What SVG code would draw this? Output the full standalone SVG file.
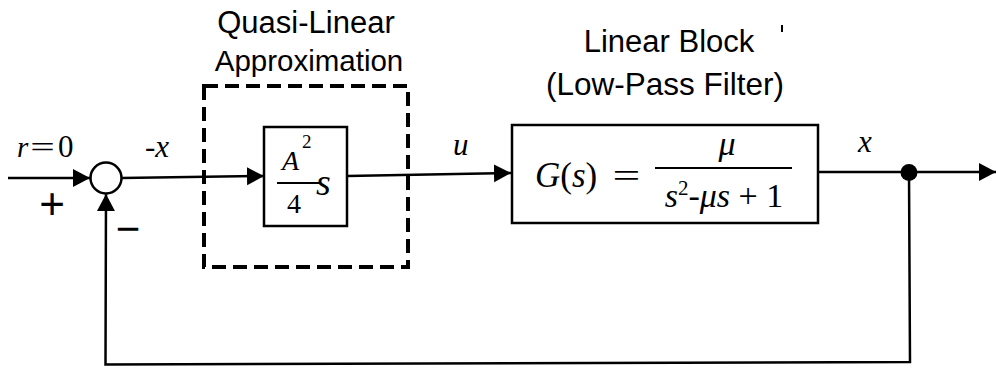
<svg xmlns="http://www.w3.org/2000/svg" width="998" height="369" viewBox="0 0 998 369">
<style>
.ln{fill:none;stroke:#000;stroke-width:2.5}
.box{fill:#fff;stroke:#000;stroke-width:2.5}
.dash{fill:none;stroke:#000;stroke-width:4;stroke-dasharray:14 7}
.sans{font-family:"Liberation Sans",Arial,sans-serif;fill:#000}
.math{font-family:"Liberation Serif","Times New Roman",serif;fill:#000}
.it{font-style:italic}
</style>
<defs>
<marker id="ah" markerUnits="userSpaceOnUse" markerWidth="18" markerHeight="20" refX="17" refY="9" orient="auto">
<path d="M0,0 L17,9 L0,18 z" fill="#000"/>
</marker>
</defs>
<rect width="998" height="369" fill="#fff"/>

<g id="connectors">
<path class="ln" d="M8,178 L90,178" marker-end="url(#ah)"/>
<path class="ln" d="M121.5,178 L264,176" marker-end="url(#ah)"/>
<path class="ln" d="M347,176 L511,173" marker-end="url(#ah)"/>
<path class="ln" d="M818,172 L996,172" marker-end="url(#ah)"/>
<path class="ln" d="M909,172 L910,362 L105.5,364.5 L106,194" marker-end="url(#ah)"/>
<circle cx="909" cy="172.5" r="8.5" fill="#000"/>
</g>

<g id="sum">
<circle cx="106" cy="178" r="15.5" fill="#fff" stroke="#000" stroke-width="2.5"/>
<text class="sans" x="52" y="219" font-size="44" text-anchor="middle">+</text>
<text class="sans" x="128" y="243" font-size="42" text-anchor="middle">−</text>
</g>

<g id="input-label">
<text class="math it" x="17" y="157" font-size="29">r</text>
<text class="math" transform="translate(42.5,157) scale(1.5,1)" font-size="29" text-anchor="middle">=</text>
<text class="math" x="58" y="157" font-size="31">0</text>
<text class="math" x="145" y="157" font-size="31">-<tspan class="it">x</tspan></text>
</g>

<g id="quasi-linear">
<rect class="dash" x="204" y="86" width="204" height="181"/>
<text class="sans" x="306" y="33" font-size="31" text-anchor="middle">Quasi-Linear</text>
<text class="sans" x="309" y="71" font-size="29.5" text-anchor="middle">Approximation</text>
<rect class="box" x="264" y="127" width="83" height="99"/>
<text class="math it" x="282" y="170" font-size="28">A</text>
<text class="math" x="302" y="148" font-size="19">2</text>
<line x1="277" y1="183" x2="320" y2="183" stroke="#000" stroke-width="2"/>
<text class="math" x="287" y="213" font-size="28">4</text>
<text class="math it" x="316" y="195" font-size="38">s</text>
</g>

<g id="u-label">
<text class="math it" x="453" y="155" font-size="31">u</text>
</g>

<g id="linear-block">
<text class="sans" x="669" y="52" font-size="31" text-anchor="middle">Linear Block</text>
<line x1="782" y1="25" x2="782" y2="32" stroke="#000" stroke-width="2"/>
<text class="sans" x="665" y="95" font-size="31.5" text-anchor="middle">(Low-Pass Filter)</text>
<rect class="box" x="512" y="125" width="306" height="98"/>
<text class="math" x="535" y="187" font-size="35"><tspan class="it">G</tspan>(<tspan class="it">s</tspan>)</text>
<text class="math" transform="translate(626.5,187) scale(1.45,1)" font-size="34" text-anchor="middle">=</text>
<text class="math it" x="727" y="155" font-size="34" text-anchor="middle">μ</text>
<line x1="655" y1="168" x2="792" y2="168" stroke="#000" stroke-width="2"/>
<text class="math" x="724" y="207" font-size="34" text-anchor="middle"><tspan class="it">s</tspan><tspan font-size="21" dy="-12">2</tspan><tspan dy="12">-</tspan><tspan class="it">μs</tspan> + 1</text>
</g>

<g id="x-label">
<text class="math it" x="858" y="152" font-size="31">x</text>
</g>
</svg>
